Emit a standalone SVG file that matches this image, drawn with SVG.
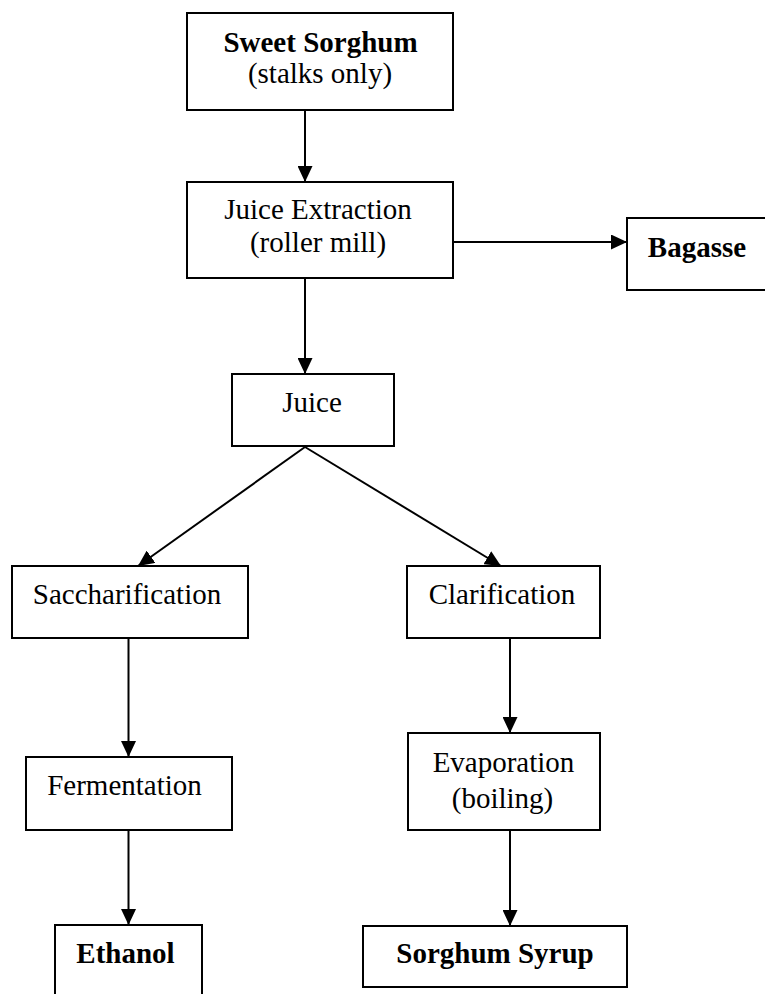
<svg xmlns="http://www.w3.org/2000/svg" width="765" height="994" viewBox="0 0 765 994">
<style>
.box{fill:#fff;stroke:#000;stroke-width:2}
.t{font-family:"Liberation Serif","Times New Roman",serif;font-size:29px;fill:#000;text-anchor:middle}
.b{font-weight:bold}
.c{stroke:#000;stroke-width:2;fill:none}
</style>
<defs>
<marker id="ah" markerUnits="userSpaceOnUse" markerWidth="16" markerHeight="15" viewBox="0 0 16 15" refX="16" refY="7.5" orient="auto">
<path d="M0,0 L16,7.5 L0,15 z" fill="#000"/>
</marker>
</defs>
<rect width="765" height="994" fill="#fff"/>
<g id="connectors">
<line class="c" x1="305" y1="111" x2="305" y2="182" marker-end="url(#ah)"/>
<line class="c" x1="453" y1="242" x2="627" y2="242" marker-end="url(#ah)"/>
<line class="c" x1="305" y1="278" x2="305" y2="374" marker-end="url(#ah)"/>
<line class="c" x1="305" y1="447" x2="138" y2="566" marker-end="url(#ah)"/>
<line class="c" x1="305" y1="447" x2="501" y2="566" marker-end="url(#ah)"/>
<line class="c" x1="128.5" y1="638" x2="128.5" y2="757" marker-end="url(#ah)"/>
<line class="c" x1="510" y1="638" x2="510" y2="733" marker-end="url(#ah)"/>
<line class="c" x1="128.5" y1="830" x2="128.5" y2="925" marker-end="url(#ah)"/>
<line class="c" x1="510" y1="830" x2="510" y2="926" marker-end="url(#ah)"/>
</g>
<g id="sweet-sorghum">
<rect class="box" x="187" y="13" width="266" height="97"/>
<text class="t b" x="320.5" y="52">Sweet Sorghum</text>
<text class="t" x="320" y="83">(stalks only)</text>
</g>
<g id="juice-extraction">
<rect class="box" x="187" y="182" width="266" height="96"/>
<text class="t" x="318" y="219">Juice Extraction</text>
<text class="t" x="318" y="252">(roller mill)</text>
</g>
<g id="bagasse">
<rect class="box" x="627" y="218" width="150" height="72"/>
<text class="t b" x="697" y="257">Bagasse</text>
</g>
<g id="juice">
<rect class="box" x="232" y="374" width="162" height="72"/>
<text class="t" x="312" y="412">Juice</text>
</g>
<g id="saccharification">
<rect class="box" x="12" y="566" width="236" height="72"/>
<text class="t" x="127" y="604">Saccharification</text>
</g>
<g id="clarification">
<rect class="box" x="407" y="566" width="193" height="72"/>
<text class="t" x="502" y="604">Clarification</text>
</g>
<g id="fermentation">
<rect class="box" x="26" y="757" width="206" height="73"/>
<text class="t" x="124.5" y="795">Fermentation</text>
</g>
<g id="evaporation">
<rect class="box" x="408" y="733" width="192" height="97"/>
<text class="t" x="503.5" y="772">Evaporation</text>
<text class="t" x="502.5" y="808">(boiling)</text>
</g>
<g id="ethanol">
<rect class="box" x="55" y="925" width="147" height="80"/>
<text class="t b" x="125.5" y="963">Ethanol</text>
</g>
<g id="sorghum-syrup">
<rect class="box" x="363" y="926" width="264" height="61"/>
<text class="t b" x="495" y="963">Sorghum Syrup</text>
</g>
</svg>
